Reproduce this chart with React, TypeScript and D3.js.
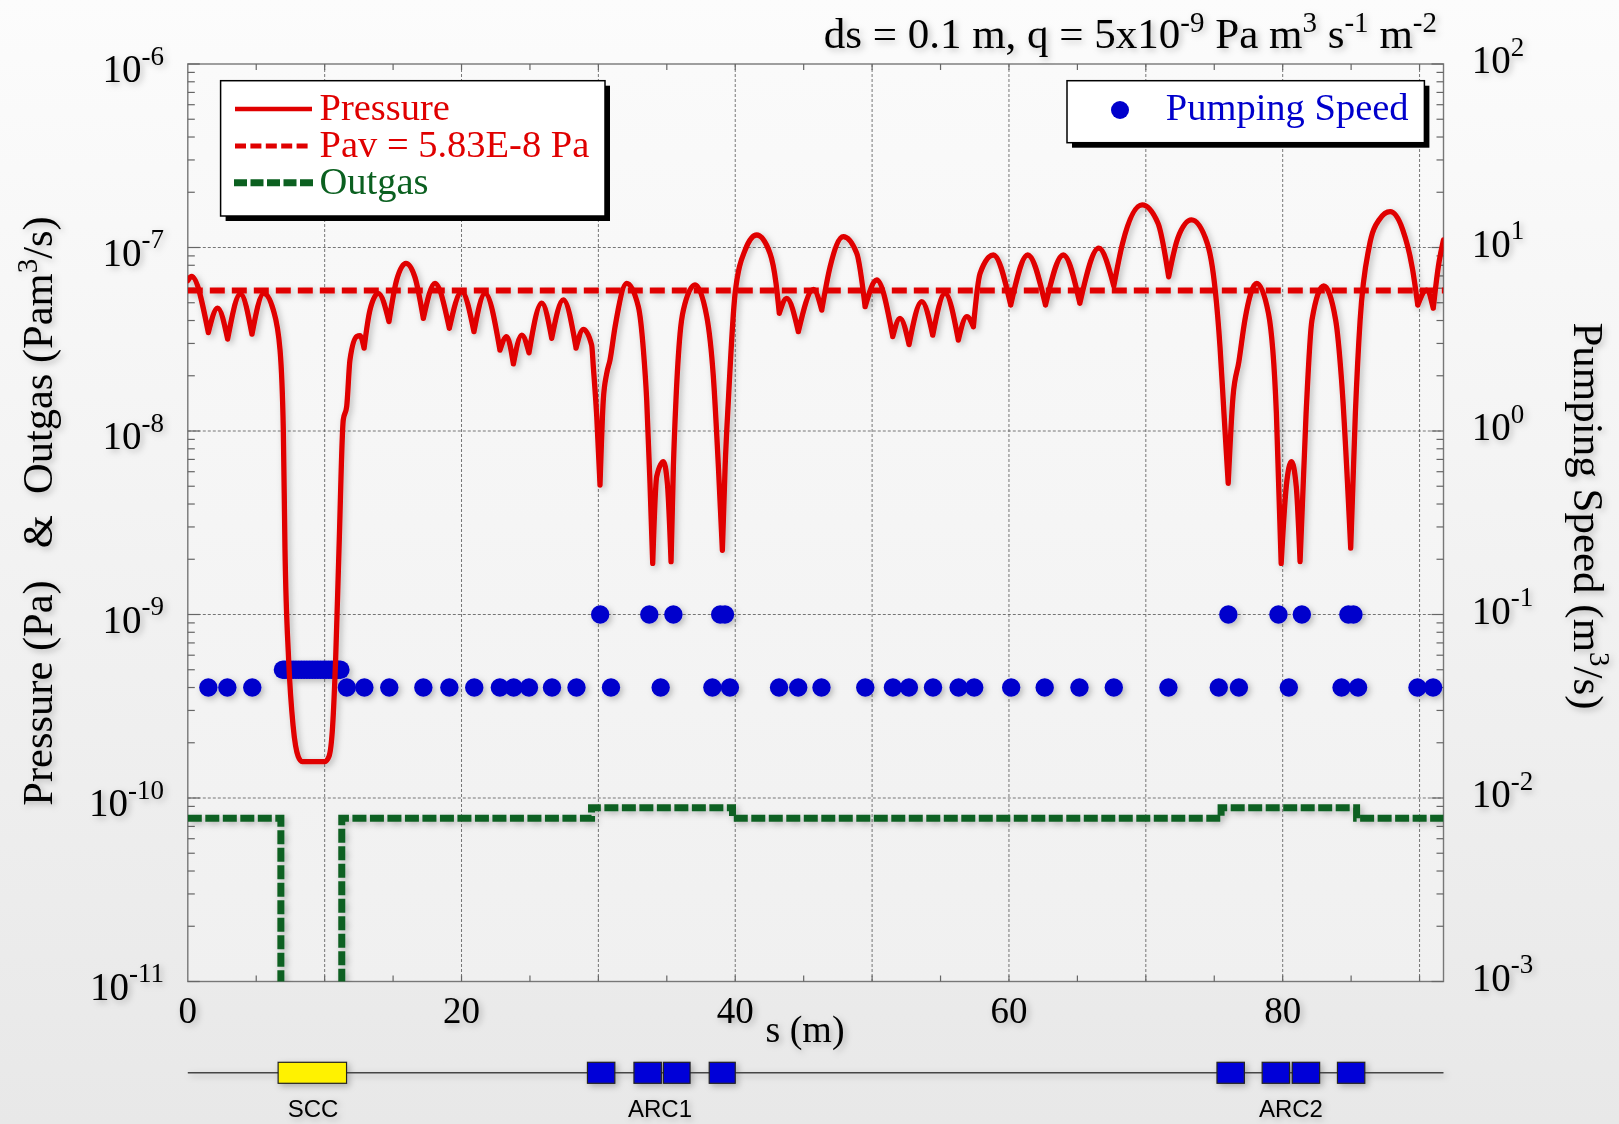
import React from 'react';
import * as d3 from 'd3';

const W = 1619;
const H = 1124;
const PL = 187.8, PR = 1443.5, PT = 64, PB = 981.5;

// ---- data ----
const xLabels = [0, 20, 40, 60, 80];
const xGrid = [10, 20, 30, 40, 50, 60, 70, 80, 90];
const xSmallTicks = [5, 10, 15, 20, 25, 30, 35, 40, 45, 50, 55, 60, 65, 70, 75, 80, 85, 90];
const leftDecades = [-11, -10, -9, -8, -7, -6];
const rightDecades = [-3, -2, -1, 0, 1, 2];
const Pav = 5.83e-8;

// pressure along s (m) -> Pa
const pressure: [number, number][] = [
  [0, 6.6e-8], [0.28, 6.95e-8], [1.5, 3.44e-8], [2.18, 4.67e-8], [2.91, 3.17e-8], [3.85, 5.58e-8],
  [4.69, 3.37e-8], [5.55, 5.62e-8], [6.25, 4.56e-8], [6.74, 2.76e-8], [6.98, 1.01e-8], [7.1, 2.3e-9],
  [7.37, 5.65e-10], [7.7, 2.45e-10], [8.07, 1.68e-10], [8.35, 1.58e-10], [10.03, 1.58e-10], [10.31, 1.68e-10],
  [10.58, 2.45e-10], [10.8, 5.65e-10], [11.05, 2.3e-9], [11.36, 1.15e-8], [11.61, 1.36e-8], [11.85, 2.44e-8],
  [12.34, 3.27e-8], [12.58, 3.31e-8], [12.88, 2.83e-8], [13.31, 4.56e-8], [13.92, 5.62e-8], [14.7, 3.95e-8],
  [15.26, 6.65e-8], [15.94, 8.2e-8], [16.6, 6.87e-8], [17.21, 4.11e-8], [18.06, 6.38e-8], [19.11, 3.63e-8],
  [20.01, 5.74e-8], [20.91, 3.48e-8], [21.72, 5.62e-8], [22.81, 2.76e-8], [23.3, 3.27e-8], [23.79, 2.32e-8],
  [24.4, 3.33e-8], [24.93, 2.67e-8], [25.86, 4.97e-8], [26.59, 3.2e-8], [27.44, 5.18e-8], [28.37, 2.83e-8],
  [28.9, 3.58e-8], [29.51, 2.94e-8], [29.63, 2.24e-8], [29.88, 1.2e-8], [30.12, 5.08e-9], [30.36, 1.48e-8],
  [30.61, 2.06e-8], [30.85, 2.44e-8], [31.22, 3.7e-8], [32.07, 6.38e-8], [32.92, 4.76e-8], [33.29, 2.76e-8],
  [33.53, 1.48e-8], [33.77, 5.2e-9], [33.97, 1.9e-9], [34.26, 5.64e-9], [34.75, 6.81e-9], [35.04, 5.19e-9],
  [35.31, 1.94e-9], [35.48, 6.38e-9], [35.67, 1.48e-8], [35.97, 3.4e-8], [36.21, 4.56e-8], [37.06, 6.25e-8],
  [37.92, 4.2e-8], [38.4, 1.98e-8], [38.77, 6.38e-9], [39.06, 2.24e-9], [39.26, 6.38e-9], [39.5, 1.48e-8],
  [39.99, 5.62e-8], [40.72, 9.68e-8], [41.57, 1.17e-7], [42.54, 9.29e-8], [42.98, 6.38e-8], [43.22, 4.38e-8],
  [43.76, 5.28e-8], [44.61, 3.48e-8], [45.71, 5.92e-8], [46.32, 4.56e-8], [46.93, 7.85e-8], [47.9, 1.146e-7],
  [48.88, 9.29e-8], [49.49, 4.76e-8], [50.34, 6.65e-8], [51.51, 3.27e-8], [52.04, 4.11e-8], [52.7, 2.96e-8],
  [53.63, 5.07e-8], [54.43, 3.33e-8], [55.33, 5.62e-8], [56.3, 3.13e-8], [56.92, 4.2e-8], [57.4, 3.7e-8],
  [57.89, 7.23e-8], [58.86, 9.1e-8], [60.13, 4.86e-8], [61.37, 9.1e-8], [62.67, 4.86e-8], [63.97, 9.1e-8],
  [65.18, 4.97e-8], [66.56, 9.91e-8], [67.66, 6.17e-8], [68.3, 1.054e-7], [69.73, 1.706e-7], [70.89, 1.355e-7],
  [71.67, 6.93e-8], [72.33, 1.122e-7], [73.34, 1.413e-7], [74.49, 1.054e-7], [75.07, 5.86e-8], [75.42, 2.88e-8],
  [75.71, 1.247e-8], [76.02, 5.18e-9], [76.37, 1.538e-8], [76.8, 2.39e-8], [77.24, 4.03e-8], [78.1, 6.38e-8],
  [78.96, 4.38e-8], [79.54, 1.247e-8], [79.89, 1.9e-9], [80.26, 4.97e-9], [80.64, 6.81e-9], [80.99, 5.0e-9],
  [81.27, 1.94e-9], [81.71, 1.247e-8], [82.14, 4.03e-8], [83.0, 6.17e-8], [83.87, 4.03e-8], [84.3, 1.9e-8],
  [84.97, 2.3e-9], [85.31, 1.247e-8], [85.66, 4.03e-8], [86.32, 1.01e-7], [87.04, 1.413e-7], [87.85, 1.567e-7],
  [88.78, 1.245e-7], [89.5, 7.53e-8], [89.87, 4.86e-8], [90.51, 5.86e-8], [91.0, 4.67e-8], [91.37, 7.85e-8],
  [91.75, 1.1e-7],
];

// outgas steps (start s, value Pa m3/s), step-after
const outgas: [number, number][] = [
  [0, 7.75e-11], [6.8, 0], [11.25, 7.75e-11], [29.5, 8.85e-11], [39.8, 7.75e-11],
  [75.5, 8.85e-11], [85.4, 7.75e-11], [91.75, 7.75e-11],
];

// pumping speeds (m3/s) at positions s (m)
const pumpsLow = [1.5, 2.89, 4.71, 11.62, 12.9, 14.72, 17.21, 19.11, 20.93, 22.8, 23.81, 24.93, 26.61, 28.4,
  30.92, 34.55, 38.33, 39.61, 43.2, 44.6, 46.3, 49.5, 51.52, 52.69, 54.45, 56.32, 57.46, 60.16, 62.61, 65.15,
  67.66, 71.65, 75.33, 76.8, 80.45, 84.3, 85.51, 89.85, 90.99];
const pumpsLowSpeed = 0.04;
const pumpsArc = [30.13, 33.72, 35.48, 38.9, 39.25, 76.03, 79.69, 81.4, 84.8, 85.17];
const pumpsArcSpeed = 0.1;
const pumpsScc = [6.95, 7.1, 7.3, 7.5, 7.7, 7.9, 8.1, 8.3, 8.5, 8.7, 8.9, 9.1, 9.3, 9.5, 9.7, 9.9, 10.1, 10.3,
  10.5, 10.7, 10.9, 11.0, 11.15];
const pumpsSccSpeed = 0.05;

// beamline elements
const sccElem: [number, number] = [6.6, 11.6];
const arcMagnets: [number, number][] = [
  [29.2, 31.2], [32.6, 34.6], [34.75, 36.7], [38.1, 40.0],
  [75.2, 77.2], [78.5, 80.5], [80.7, 82.7], [84.0, 86.0],
];
const elemLabels: [string, number][] = [['SCC', 9.15], ['ARC1', 34.5], ['ARC2', 80.6]];

const RED = '#e00000';
const BLUE = '#0000cc';
const GREEN = '#0b6020';
const SERIF = '"Liberation Serif", "DejaVu Serif", serif';
const SANS = '"Liberation Sans", Arial, sans-serif';
const NB = '\u00A0';

export default function App() {
  const x = d3.scaleLinear().domain([0, 91.75]).range([PL, PR]);
  const yL = d3.scaleLog().domain([1e-11, 1e-6]).range([PB, PT]);
  const yR = d3.scaleLog().domain([1e-3, 1e2]).range([PB, PT]);

  // split pressure at cusps (local minima)
  const segs: [number, number][][] = [];
  let cur: [number, number][] = [pressure[0]];
  for (let i = 1; i < pressure.length; i++) {
    cur.push(pressure[i]);
    if (i < pressure.length - 1 && pressure[i][1] < pressure[i - 1][1] && pressure[i][1] < pressure[i + 1][1]) {
      segs.push(cur);
      cur = [pressure[i]];
    }
  }
  segs.push(cur);
  const pLine = d3.line<[number, number]>().x(d => x(d[0])).y(d => yL(d[1])).curve(d3.curveMonotoneX);
  const pPath = segs.map(s => pLine(s)).join('');

  const oLine = d3.line<[number, number]>()
    .x(d => x(d[0]))
    .y(d => yL(Math.max(d[1], 1e-13)))
    .curve(d3.curveStepAfter);
  const oPath = oLine(outgas) || '';

  const minor = [2, 3, 4, 5, 6, 7, 8, 9];
  const leftMinor: number[] = [];
  leftDecades.slice(0, -1).forEach(dd => minor.forEach(m => leftMinor.push(m * Math.pow(10, dd))));

  const beamY = 1072.7;
  const leftTitle = `Pressure (Pa)${NB}${NB}${NB}&${NB}${NB}Outgas (Pam`;

  return (
    <div style={{ position: 'absolute', left: 0, top: 0, width: W, height: H }}>
      <svg width={W} height={H} viewBox={`0 0 ${W} ${H}`} style={{ display: 'block' }}>
        <defs>
          <linearGradient id="bg" x1="0" y1="0" x2="0" y2="1">
            <stop offset="0" stopColor="#fcfcfc" />
            <stop offset="1" stopColor="#e8e8e8" />
          </linearGradient>
          <linearGradient id="pbg" x1="0" y1="0" x2="0" y2="1">
            <stop offset="0" stopColor="#fafafa" />
            <stop offset="1" stopColor="#f0f0f0" />
          </linearGradient>
          <filter id="sh" x="-10%" y="-10%" width="120%" height="120%">
            <feDropShadow dx="2.5" dy="2.5" stdDeviation="3" floodColor="#000" floodOpacity="0.25" />
          </filter>
          <clipPath id="plotClip">
            <rect x={PL} y={PT} width={PR - PL} height={PB - PT} />
          </clipPath>
        </defs>
        <rect x={0} y={0} width={W} height={H} fill="url(#bg)" />
        <rect x={PL} y={PT} width={PR - PL} height={PB - PT} fill="url(#pbg)" />

        {/* grid */}
        <g stroke="#555" strokeWidth={0.8} strokeDasharray="3,2" fill="none">
          {xGrid.map(v => <line key={'gx' + v} x1={x(v)} x2={x(v)} y1={PT} y2={PB} />)}
          {leftDecades.slice(1, -1).map(dd => {
            const yy = yL(Math.pow(10, dd));
            return <line key={'gy' + dd} x1={PL} x2={PR} y1={yy} y2={yy} />;
          })}
        </g>

        {/* frame */}
        <g stroke="#777" strokeWidth={1.4} fill="none">
          <rect x={PL} y={PT} width={PR - PL} height={PB - PT} />
        </g>
        {/* ticks */}
        <g stroke="#666" strokeWidth={1.2}>
          {leftMinor.map((v, i) => (
            <g key={'lm' + i}>
              <line x1={PL} x2={PL + 7} y1={yL(v)} y2={yL(v)} />
              <line x1={PR} x2={PR - 7} y1={yL(v)} y2={yL(v)} />
            </g>
          ))}
          {leftDecades.map(dd => (
            <g key={'lM' + dd}>
              <line x1={PL} x2={PL + 12} y1={yL(Math.pow(10, dd))} y2={yL(Math.pow(10, dd))} />
              <line x1={PR} x2={PR - 12} y1={yL(Math.pow(10, dd))} y2={yL(Math.pow(10, dd))} />
            </g>
          ))}
          {xSmallTicks.map(v => (
            <g key={'xt' + v}>
              <line x1={x(v)} x2={x(v)} y1={PT} y2={PT + 6} />
              <line x1={x(v)} x2={x(v)} y1={PB} y2={PB - 6} />
            </g>
          ))}
        </g>

        {/* data */}
        <g clipPath="url(#plotClip)">
          <g filter="url(#sh)">
            <path d={oPath} fill="none" stroke={GREEN} strokeWidth={7} strokeDasharray="14,3.5" />
            {pumpsScc.map((s, i) => <circle key={'sc' + i} cx={x(s)} cy={yR(pumpsSccSpeed)} r={9.2} fill={BLUE} />)}
            {pumpsLow.map((s, i) => <circle key={'pl' + i} cx={x(s)} cy={yR(pumpsLowSpeed)} r={9.2} fill={BLUE} />)}
            {pumpsArc.map((s, i) => <circle key={'pa' + i} cx={x(s)} cy={yR(pumpsArcSpeed)} r={9.2} fill={BLUE} />)}
            <line x1={x(0)} x2={x(91.75)} y1={yL(Pav)} y2={yL(Pav)} stroke={RED} strokeWidth={6} strokeDasharray="15,7" />
            <path d={pPath} fill="none" stroke={RED} strokeWidth={5.3} strokeLinecap="round" strokeLinejoin="round" />
          </g>
        </g>

        {/* tick labels and titles */}
        <g fontFamily={SERIF} fill="#000" filter="url(#sh)">
          {leftDecades.map(dd => (
            <text key={'ll' + dd} x={164} y={yL(Math.pow(10, dd)) + 18} textAnchor="end" fontSize={39}>
              10<tspan dy={-17.5} fontSize={27}>{String(dd)}</tspan>
            </text>
          ))}
          {rightDecades.map(dd => (
            <text key={'rl' + dd} x={1471.8} y={yR(Math.pow(10, dd)) + 9} textAnchor="start" fontSize={39}>
              10<tspan dy={-17.5} fontSize={27}>{String(dd)}</tspan>
            </text>
          ))}
          {xLabels.map(v => (
            <text key={'xl' + v} x={x(v)} y={1023} textAnchor="middle" fontSize={37}>{String(v)}</text>
          ))}
          <text x={805} y={1041.5} textAnchor="middle" fontSize={38}>s (m)</text>
          <text x={1437} y={48} textAnchor="end" fontSize={43}>
            {`ds = 0.1 m, q = 5x10`}<tspan dy={-16} fontSize={29}>-9</tspan>
            <tspan dy={16}>{`${NB}Pa m`}</tspan><tspan dy={-16} fontSize={29}>3</tspan>
            <tspan dy={16}>{`${NB}s`}</tspan><tspan dy={-16} fontSize={29}>-1</tspan>
            <tspan dy={16}>{`${NB}m`}</tspan><tspan dy={-16} fontSize={29}>-2</tspan>
          </text>
          <text transform="translate(52,511) rotate(-90)" textAnchor="middle" fontSize={42.5}>
            {leftTitle}<tspan dy={-15} fontSize={29}>3</tspan><tspan dy={15}>/s)</tspan>
          </text>
          <text transform="translate(1574,516) rotate(90)" textAnchor="middle" fontSize={43}>
            {`Pumping Speed (m`}<tspan dy={-16} fontSize={29}>3</tspan><tspan dy={16}>/s)</tspan>
          </text>
        </g>

        {/* legend left */}
        <g>
          <rect x={225.6} y={85.7} width={384.4} height={135.3} fill="#000" />
          <rect x={220.6} y={80.7} width={384.4} height={135.3} fill="#fff" stroke="#000" strokeWidth={1.5} />
          <line x1={235} x2={312} y1={109} y2={109} stroke={RED} strokeWidth={4.5} />
          <line x1={235} x2={312} y1={146} y2={146} stroke={RED} strokeWidth={5} strokeDasharray="11,4.4" />
          <line x1={234} x2={314} y1={182.7} y2={182.7} stroke={GREEN} strokeWidth={7} strokeDasharray="13,3.5" />
          <g fontFamily={SERIF} fontSize={38.5}>
            <text x={319.5} y={120} fill={RED}>Pressure</text>
            <text x={319.5} y={157} fill={RED}>Pav = 5.83E-8 Pa</text>
            <text x={319.5} y={194} fill={GREEN}>Outgas</text>
          </g>
        </g>
        {/* legend right */}
        <g>
          <rect x={1072} y={85.7} width={357.4} height={62} fill="#000" />
          <rect x={1067} y={80.7} width={357.4} height={62} fill="#fff" stroke="#000" strokeWidth={1.5} />
          <circle cx={1120} cy={110} r={9} fill={BLUE} />
          <text x={1165.8} y={120} fill={BLUE} fontFamily={SERIF} fontSize={38.5}>Pumping Speed</text>
        </g>

        {/* beamline */}
        <g filter="url(#sh)">
          <line x1={x(0)} x2={x(91.75)} y1={beamY} y2={beamY} stroke="#444" strokeWidth={1.6} />
          <rect x={x(sccElem[0])} y={1062.3} width={x(sccElem[1]) - x(sccElem[0])} height={21} fill="#fff200" stroke="#222" strokeWidth={1.2} />
          {arcMagnets.map((m, i) => (
            <rect key={'am' + i} x={x(m[0])} y={1062.3} width={x(m[1]) - x(m[0])} height={21} fill="#0000d8" stroke="#222" strokeWidth={1.2} />
          ))}
          {elemLabels.map(([t, s]) => (
            <text key={t} x={x(s)} y={1116.7} textAnchor="middle" fontFamily={SANS} fontSize={24} fill="#000">{t}</text>
          ))}
        </g>
      </svg>
    </div>
  );
}
